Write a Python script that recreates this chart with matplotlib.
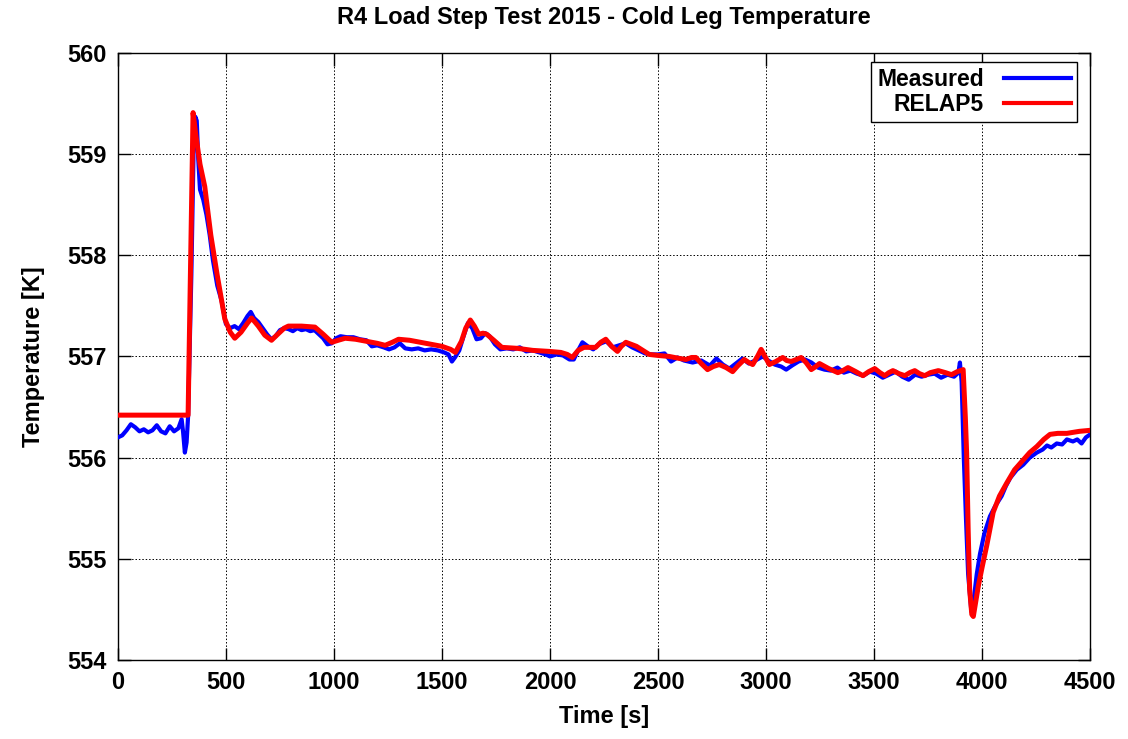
import matplotlib
matplotlib.use("Agg")
import matplotlib.pyplot as plt
import numpy as np

# ── Data ────────────────────────────────────────────────────────────────
meas_t = [
    0, 20, 40, 60, 80, 100, 120, 140, 160, 180, 200, 220, 240, 260, 280, 295, 302, 310, 318, 325,
    340, 350, 358, 365, 372, 380, 395, 410, 425, 440, 460, 480, 500, 520, 540, 560, 580, 600, 615,
    630, 650, 670, 690, 710, 730, 750, 770, 790, 810, 830, 850, 870, 890, 910, 930, 950, 970, 990,
    1010, 1030, 1060, 1090, 1120, 1150, 1175, 1200, 1230, 1255, 1280, 1305, 1330, 1360, 1390, 1420,
    1450, 1480, 1510, 1530, 1546, 1560, 1580, 1600, 1620, 1640, 1660, 1680, 1700, 1720, 1745, 1770,
    1800, 1830, 1860, 1890, 1920, 1950, 1980, 2000, 2030, 2060, 2090, 2110, 2130, 2150, 2175, 2200,
    2225, 2260, 2290, 2320, 2350, 2380, 2410, 2440, 2470, 2500, 2530, 2560, 2590, 2620, 2660, 2700,
    2740, 2770, 2800, 2830, 2860, 2890, 2920, 2950, 2985, 3010, 3040, 3070, 3093, 3120, 3150, 3180,
    3210, 3240, 3270, 3300, 3330, 3360, 3390, 3420, 3450, 3480, 3510, 3540, 3570, 3600, 3630, 3660,
    3690, 3720, 3750, 3780, 3810, 3840, 3870, 3890, 3897, 3905, 3915, 3925, 3935, 3950, 3960, 3975,
    3990, 4010, 4036, 4060, 4090, 4110, 4130, 4160, 4190, 4220, 4253, 4280, 4300, 4320, 4345, 4370,
    4392, 4420, 4440, 4460, 4480, 4500,
]
meas_T = [
    556.20, 556.22, 556.27, 556.33, 556.30, 556.26, 556.28, 556.25, 556.27, 556.32, 556.26, 556.24,
    556.31, 556.26, 556.29, 556.38, 556.25, 556.05, 556.15, 556.41,
    557.80, 559.00, 559.37, 559.33, 558.95, 558.65, 558.55, 558.40, 558.20, 557.95, 557.70, 557.55,
    557.32, 557.28, 557.30, 557.27, 557.33, 557.40, 557.44,
    557.38, 557.34, 557.28, 557.22, 557.17, 557.20, 557.26, 557.28, 557.27, 557.25, 557.28, 557.26,
    557.27, 557.25, 557.26, 557.22, 557.18, 557.12, 557.13,
    557.18, 557.20, 557.19, 557.19, 557.17, 557.16, 557.10, 557.11, 557.09, 557.07, 557.09, 557.13,
    557.08, 557.07, 557.08, 557.06,
    557.07, 557.06, 557.04, 557.02, 556.95, 556.99, 557.06, 557.20, 557.33, 557.28, 557.17, 557.18,
    557.23, 557.20, 557.12, 557.07,
    557.08, 557.07, 557.09, 557.05, 557.06, 557.04, 557.02, 557.00, 557.02, 557.01, 556.97, 556.97,
    557.06, 557.14, 557.10, 557.07,
    557.12, 557.15, 557.09, 557.11, 557.13, 557.09, 557.06, 557.03, 557.02, 557.02, 557.03, 556.95,
    556.99, 556.96, 556.94, 556.96,
    556.91, 556.98, 556.92, 556.88, 556.93, 556.98, 556.93, 556.96, 557.00, 556.96, 556.92, 556.90,
    556.87, 556.91, 556.95, 556.97,
    556.94, 556.89, 556.87, 556.86, 556.89, 556.84, 556.86, 556.83, 556.81, 556.85, 556.83, 556.79,
    556.82, 556.85, 556.80, 556.77,
    556.82, 556.80, 556.82, 556.83, 556.79, 556.82, 556.80, 556.84, 556.94, 556.75, 556.00, 555.40,
    554.85, 554.48, 554.58, 554.85,
    555.05, 555.25, 555.42, 555.52, 555.62, 555.72, 555.80, 555.88, 555.93, 556.00, 556.05, 556.08,
    556.12, 556.10, 556.14, 556.13,
    556.18, 556.16, 556.18, 556.14, 556.20, 556.23,
]

relap_t = [
    0, 325, 348, 360, 380, 402, 430, 460, 495, 520, 541, 570, 600, 619, 650, 680, 711, 740, 770,
    789, 850, 912, 950, 990, 1020, 1052, 1100, 1150, 1200, 1237, 1270, 1299, 1350, 1400, 1450,
    1500, 1540, 1562, 1590, 1610, 1631, 1650, 1670, 1690, 1707, 1740, 1777, 1850, 1920, 1995,
    2050, 2080, 2103, 2130, 2157, 2190, 2211, 2235, 2258, 2285, 2312, 2330, 2351, 2400, 2459,
    2500, 2552, 2600, 2629, 2655, 2675, 2700, 2729, 2755, 2783, 2815, 2845, 2870, 2899, 2920,
    2938, 2960, 2977, 2995, 3015, 3045, 3077, 3095, 3116, 3140, 3162, 3185, 3209, 3230, 3247,
    3290, 3332, 3355, 3379, 3415, 3448, 3475, 3503, 3527, 3549, 3568, 3587, 3615, 3642, 3665,
    3688, 3710, 3734, 3760, 3797, 3830, 3858, 3885, 3912, 3922, 3928, 3935, 3942, 3952, 3959,
    3968, 3982, 4000, 4021, 4051, 4080, 4114, 4150, 4191, 4220, 4253, 4285, 4314, 4350, 4392,
    4450, 4500,
]
relap_T = [
    556.42, 556.42, 559.41, 559.20, 558.90, 558.68, 558.20, 557.80, 557.37, 557.24, 557.18, 557.24,
    557.33, 557.38, 557.30, 557.21, 557.16, 557.22, 557.28,
    557.30, 557.30, 557.29, 557.22, 557.14, 557.16, 557.18, 557.17, 557.15, 557.13, 557.11, 557.14,
    557.17, 557.16, 557.14, 557.12,
    557.10, 557.07, 557.04, 557.15, 557.28, 557.36, 557.30, 557.22, 557.23, 557.22, 557.16, 557.09,
    557.08, 557.06, 557.05,
    557.04, 557.02, 556.99, 557.06, 557.09, 557.09, 557.09, 557.14, 557.17, 557.10, 557.05, 557.10,
    557.14, 557.10, 557.02,
    557.01, 557.00, 556.98, 556.97, 556.99, 556.99, 556.93, 556.87, 556.90, 556.92, 556.89, 556.85,
    556.91, 556.97, 556.94,
    556.92, 557.00, 557.07, 557.00, 556.92, 556.95, 556.99, 556.96, 556.95, 556.97, 556.99, 556.94,
    556.87, 556.90, 556.93,
    556.88, 556.84, 556.86, 556.89, 556.85, 556.81, 556.85, 556.88, 556.84, 556.81, 556.84, 556.86,
    556.83, 556.81, 556.84,
    556.86, 556.83, 556.81, 556.84, 556.86, 556.84, 556.82, 556.85, 556.87, 556.40, 556.05, 555.30,
    554.70, 554.45, 554.43,
    554.55, 554.73, 554.92, 555.13, 555.46, 555.62, 555.75, 555.88, 555.98, 556.05, 556.11, 556.18,
    556.23, 556.24, 556.24,
    556.26, 556.27,
]

x_ticks = [0, 500, 1000, 1500, 2000, 2500, 3000, 3500, 4000, 4500]
y_ticks = [554, 555, 556, 557, 558, 559, 560]

# ── Figure ──────────────────────────────────────────────────────────────
plt.rcParams["font.family"] = ["Liberation Sans", "DejaVu Sans"]
plt.rcParams["font.weight"] = "bold"

fig = plt.figure(figsize=(11.28, 7.39), dpi=100)
fig.patch.set_facecolor("white")
ax = fig.add_axes([0.1045, 0.1069, 0.862, 0.8215])

ax.plot(meas_t, meas_T, color="#0000ff", linewidth=3.0, label="Measured", zorder=3)
ax.plot(relap_t, relap_T, color="#ff0000", linewidth=3.6, label="RELAP5", zorder=4)

ax.set_xlim(0, 4500)
ax.set_ylim(554, 560)
ax.set_xticks(x_ticks)
ax.set_yticks(y_ticks)

ax.grid(True, color="black", linewidth=0.7, linestyle=(0, (1.5, 2.0)))
ax.tick_params(direction="in", length=9, width=1.0, top=True, right=True,
               labelsize=17, pad=8, colors="black")
for sp in ax.spines.values():
    sp.set_linewidth(1.0)
    sp.set_color("black")

ax.set_xlabel("Time [s]", fontsize=17, fontweight="bold", labelpad=8)
ax.set_ylabel("Temperature [K]", fontsize=17, fontweight="bold", labelpad=16)
ax.set_title("R4 Load Step Test 2015 - Cold Leg Temperature", fontsize=17,
             fontweight="bold", pad=21)

leg = ax.legend(loc="upper right", fontsize=16.5, markerfirst=False, alignment="right",
                handlelength=2.9, fancybox=False, framealpha=1.0, edgecolor="black",
                borderpad=0.25, labelspacing=0.1, handletextpad=0.9, borderaxespad=0,
                bbox_to_anchor=(0.986, 0.985))
leg.get_frame().set_linewidth(1.0)
for line in leg.get_lines():
    line.set_linewidth(3.0)

fig.savefig("out.png", dpi=100, facecolor="white")
